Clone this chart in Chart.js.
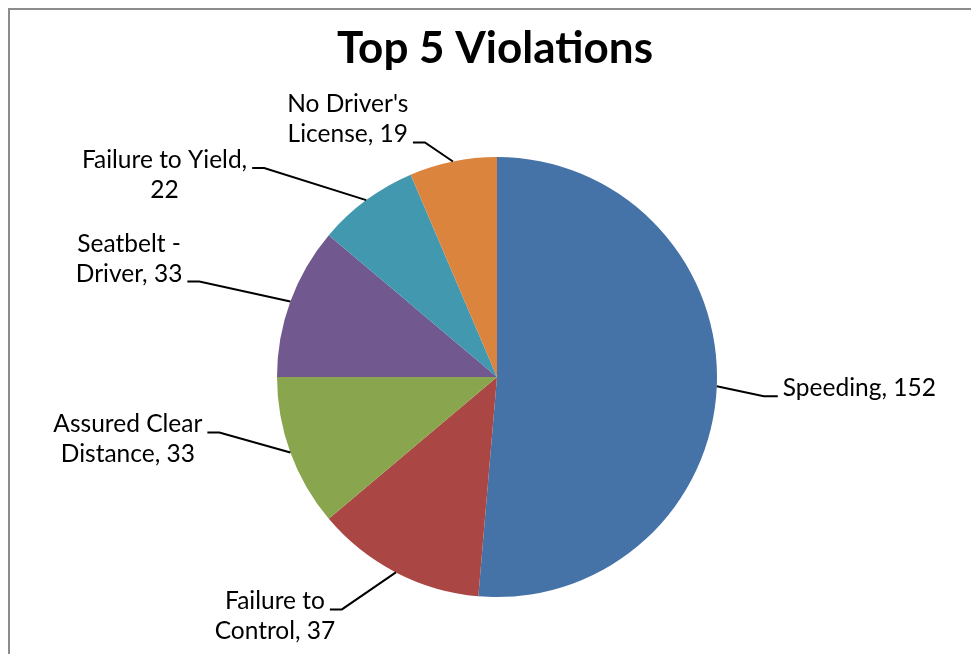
<!DOCTYPE html>
<html>
<head>
<meta charset="utf-8">
<script src="https://cdn.jsdelivr.net/npm/chart.js@4.4.1/dist/chart.umd.min.js"></script>
<style>
    html, body { margin: 0; padding: 0; background: #fff; overflow: hidden; }
    #frame { position: absolute; left: 8px; top: 8px; width: 1000px; height: 700px;
             border-top: 2px solid #8c8c8c; border-left: 2px solid #8c8c8c; }
    #chart { position: absolute; left: 0; top: 0; }
</style>
</head>
<body>
<div id="frame"></div>
<canvas id="chart" width="971" height="654"></canvas>
<script>
const categories = ['Speeding', 'Failure to Control', 'Assured Clear Distance', 'Seatbelt - Driver', 'Failure to Yield', "No Driver's License"];
const counts = [152, 37, 33, 33, 22, 19];
const colors = ['#4572A7', '#AA4643', '#89A54E', '#71588F', '#4198AF', '#DB843D'];

// where Excel put each data label (offset of leader end from the slice edge)
const labelOffsets = [[61, 10], [-66, 37], [-83, -20], [-103, -20], [-114, -32], [-40, -19]];
const wordsOnFirstLine = [3, 2, 2, 2, 3, 2];
const attachLine = [0, 0, 0, 1, 0, 1];

const FONT = '"Lato", "Open Sans", sans-serif';

const titlePlugin = {
    id: 'excelTitle',
    afterDraw(chart) {
        const ctx = chart.ctx;
        ctx.save();
        ctx.fillStyle = '#000';
        ctx.font = 'bold 44px ' + FONT;
        ctx.textAlign = 'center';
        ctx.textBaseline = 'alphabetic';
        ctx.fillText('Top 5 Violations', 495, 63);
        ctx.restore();
    }
};

const labelPlugin = {
    id: 'leaderLabels',
    afterDatasetsDraw(chart) {
        const ctx = chart.ctx;
        const meta = chart.getDatasetMeta(0);
        ctx.save();
        ctx.font = '24.5px ' + FONT;
        ctx.fillStyle = '#000';
        ctx.strokeStyle = '#000';
        ctx.lineWidth = 2;
        ctx.textBaseline = 'alphabetic';
        ctx.textAlign = 'left';
        const lineH = 30;

        meta.data.forEach((arc, i) => {
            const p = arc.getProps(['x', 'y', 'startAngle', 'endAngle', 'outerRadius'], true);
            const mid = (p.startAngle + p.endAngle) / 2;
            const ex = p.x + Math.cos(mid) * p.outerRadius;
            const ey = p.y + Math.sin(mid) * p.outerRadius;
            const endX = ex + labelOffsets[i][0];
            const endY = ey + labelOffsets[i][1];
            const right = endX > p.x;
            const kneeX = endX + (right ? -14 : 12);

            ctx.beginPath();
            ctx.moveTo(ex, ey);
            ctx.lineTo(kneeX, endY);
            ctx.lineTo(endX, endY);
            ctx.stroke();

            const words = (categories[i] + ', ' + counts[i]).split(' ');
            const lines = [words.slice(0, wordsOnFirstLine[i]).join(' ')];
            if (words.length > wordsOnFirstLine[i]) lines.push(words.slice(wordsOnFirstLine[i]).join(' '));

            const a = attachLine[i];
            const aw = ctx.measureText(lines[a]).width;
            const cx = right ? endX + 5 + aw / 2 : endX - 5 - aw / 2;
            lines.forEach((t, k) => {
                const w = ctx.measureText(t).width;
                ctx.fillText(t, cx - w / 2, endY + (k - a) * lineH);
            });
        });
        ctx.restore();
    }
};

new Chart(document.getElementById('chart'), {
    type: 'pie',
    data: {
        labels: categories,
        datasets: [{
            data: counts,
            backgroundColor: colors,
            borderWidth: 0
        }]
    },
    options: {
        responsive: false,
        animation: false,
        layout: { padding: { left: 277, right: 254, top: 157, bottom: 57 } },
        plugins: {
            legend: { display: false },
            title: { display: false },
            tooltip: { enabled: false }
        }
    },
    plugins: [labelPlugin, titlePlugin]
});
</script>
</body>
</html>
